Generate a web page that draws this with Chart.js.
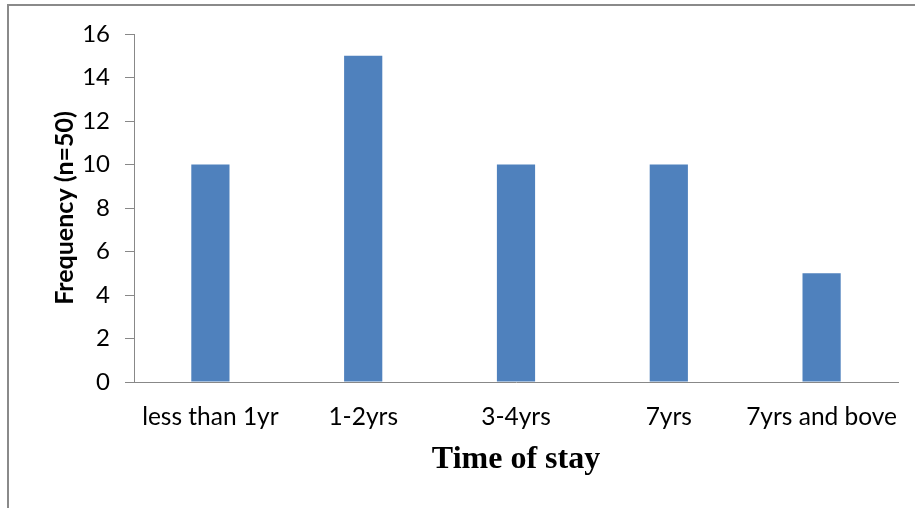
<!DOCTYPE html>
<html>
<head>
<meta charset="utf-8">
<script src="https://cdn.jsdelivr.net/npm/chart.js@4/dist/chart.umd.min.js"></script>
<style>
  html, body { margin: 0; padding: 0; background: #ffffff; overflow: hidden; }
  #wrap { position: relative; width: 915px; height: 508px; }
  #frame {
    position: absolute; left: 7px; top: 4px; width: 1000px; height: 600px;
    border-left: 2px solid #8a8a8a; border-top: 2px solid #8a8a8a; box-sizing: border-box;
  }
  #chart { position: absolute; left: 0; top: 0; }
</style>
</head>
<body>
<div id="wrap">
  <div id="frame"></div>
  <canvas id="chart" width="915" height="508"></canvas>
</div>
<script>
// Length of stay categories and respondent counts
const categories = ['less than 1yr', '1-2yrs', '3-4yrs', '7yrs', '7yrs and bove'];
const frequencies = [10, 15, 10, 10, 5];
const yMin = 0;
const yMax = 16;
const yStep = 2;
const xTitle = 'Time of stay';
const yTitle = 'Frequency (n=50)';

const axisGrey = '#888888';
const barBlue = '#4F81BD';

new Chart(document.getElementById('chart'), {
  type: 'bar',
  data: {
    labels: categories,
    datasets: [{
      data: frequencies,
      backgroundColor: barBlue,
      borderWidth: 0,
      barPercentage: 0.25,
      categoryPercentage: 1.0
    }]
  },
  options: {
    responsive: false,
    devicePixelRatio: 1,
    animation: false,
    layout: { padding: { left: 0, right: 17, top: 34, bottom: 0 } },
    plugins: { legend: { display: false }, tooltip: { enabled: false } },
    scales: {
      x: {
        afterFit: (s) => { s.height = 126; },
        grid: { display: false },
        border: { display: true, color: axisGrey, width: 1 },
        ticks: {
          color: '#000000',
          font: { family: 'Lato', size: 24.5 },
          padding: 12,
          maxRotation: 0,
          autoSkip: false
        },
        title: {
          display: true,
          text: xTitle,
          color: '#000000',
          font: { family: 'Liberation Serif', size: 32, weight: 'bold' },
          padding: { top: 0, bottom: 29 }
        }
      },
      y: {
        min: yMin,
        max: yMax,
        afterFit: (s) => { s.width = 134; },
        grid: { display: true, drawOnChartArea: false, drawTicks: true, tickLength: 9, color: axisGrey },
        border: { display: true, color: axisGrey, width: 1 },
        ticks: {
          stepSize: yStep,
          color: '#000000',
          font: { family: 'Lato', size: 24 },
          padding: 15
        },
        title: {
          display: true,
          text: yTitle,
          color: '#000000',
          font: { family: 'Lato', size: 25, weight: 'bold' },
          padding: { top: 50, bottom: 0 }
        }
      }
    }
  }
});
</script>
</body>
</html>
